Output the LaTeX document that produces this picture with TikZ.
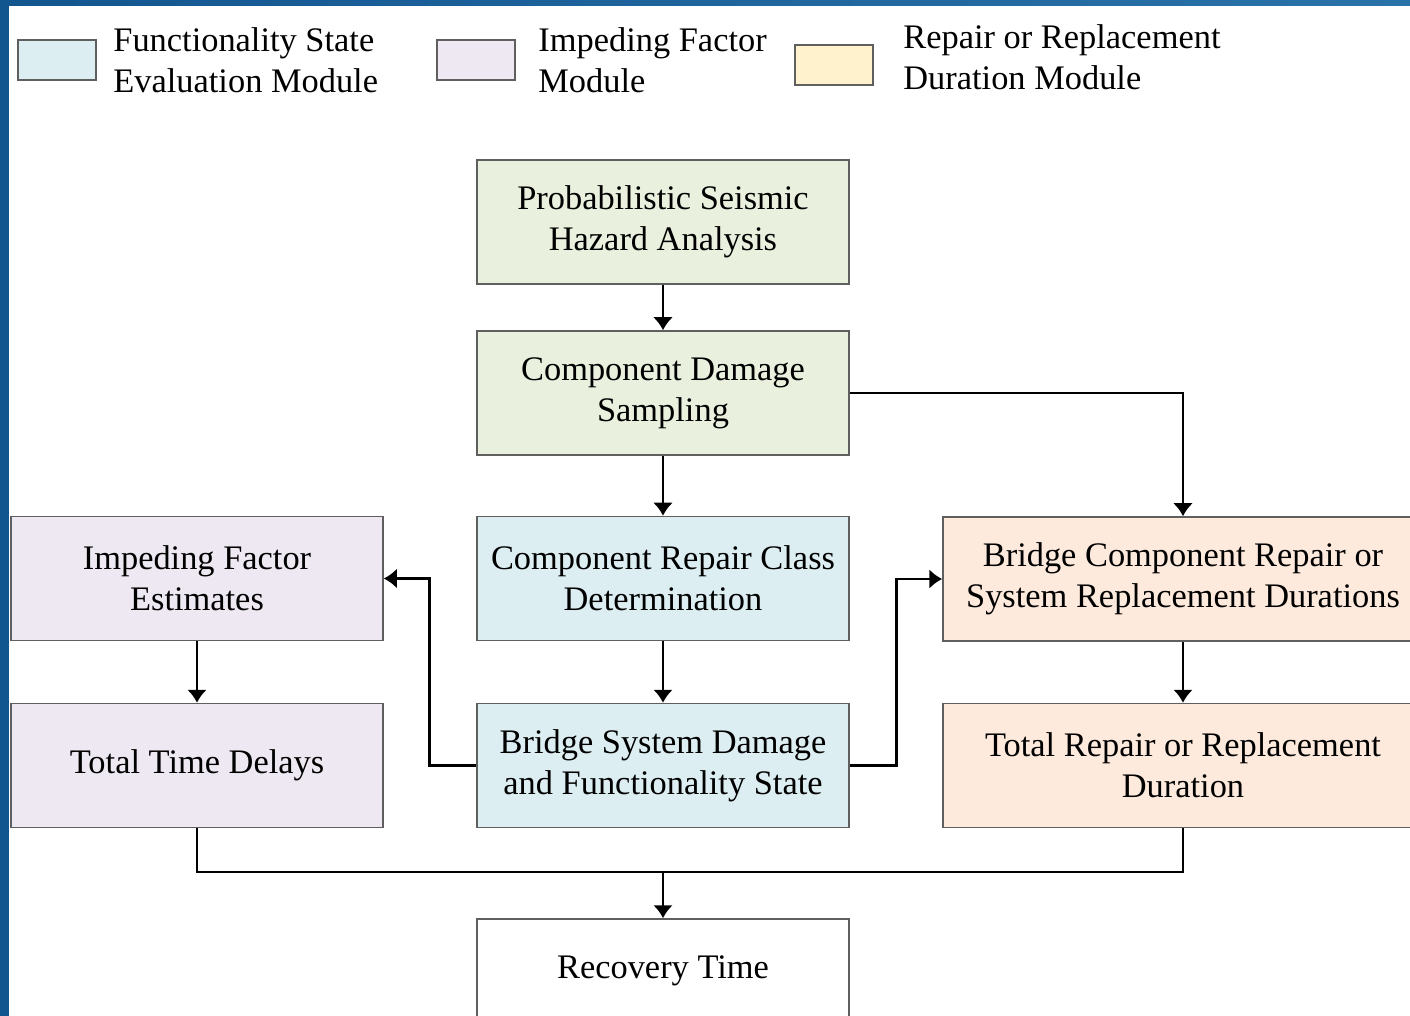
\documentclass[tikz,border=0pt]{standalone}
\usepackage{fontspec}
\setmainfont{Liberation Serif}
\usetikzlibrary{arrows.meta,positioning}

\definecolor{hazgreen}{HTML}{E9F1DE}
\definecolor{fsblue}{HTML}{DDEEF3}
\definecolor{iflav}{HTML}{EDE8F1}
\definecolor{rrpeach}{HTML}{FDEADC}
\definecolor{rrcream}{HTML}{FFF2CC}
\definecolor{boxline}{HTML}{5F5F5F}
\definecolor{frameA}{HTML}{125690}
\definecolor{frameB}{HTML}{2A72AA}

\begin{document}
\begin{tikzpicture}[
x=0.5pt,
y=-0.5pt,
box/.style={
  draw=boxline,
  line width=0.75pt,
  minimum width=186pt,
  minimum height=62pt,
  inner sep=0pt,
  align=center,
  font=\fontsize{17.2}{20.5}\selectfont
  },
widebox/.style={
  box,
  minimum width=240pt
  },
swatch/.style={
  draw=boxline,
  line width=0.75pt,
  minimum width=39pt,
  minimum height=20pt,
  inner sep=0pt
  },
keytext/.style={
  anchor=west,
  align=left,
  inner sep=0pt,
  font=\fontsize{17.2}{20.5}\selectfont
  },
flow/.style={
  draw,
  line width=1.3pt,
  ->
  },
>={Latex[length=6.5pt,width=10pt]}
]
\useasboundingbox (0,0) rectangle (1410,1016);
\clip (0,0) rectangle (1410,1016);

% frame
\shade[left color=frameA, right color=frameB] (0,0) rectangle (1410,6);
\fill[frameA] (0,0) rectangle (9,1016);

% legend
\node[swatch, fill=fsblue] (keyfs) at (57,60) {};
\node[keytext] (keyfstext) at (113,60) {Functionality State\\Evaluation Module};
\node[swatch, fill=iflav] (keyif) at (476,60) {};
\node[keytext] (keyiftext) at (538,60) {Impeding Factor\\Module};
\node[swatch, fill=rrcream] (keyrr) at (834,65) {};
\node[keytext] (keyrrtext) at (903,57) {Repair or Replacement\\Duration Module};

% modules
\node[box, fill=hazgreen] (psha) at (663,222) {Probabilistic Seismic\\Hazard Analysis};
\node[box, fill=hazgreen] (damage) at (663,393) {Component Damage\\Sampling};
\node[box, fill=fsblue] (repclass) at (663,578.5) {Component Repair Class\\Determination};
\node[box, fill=fsblue] (sysstate) at (663,765.5) {Bridge System Damage\\and Functionality State};
\node[box, fill=iflav] (impfac) at (197,578.5) {Impeding Factor\\Estimates};
\node[box, fill=iflav] (delays) at (197,765.5) {Total Time Delays};
\node[widebox, fill=rrpeach] (durations) at (1183,579) {Bridge Component Repair or\\System Replacement Durations};
\node[widebox, fill=rrpeach] (totaldur) at (1183,765.5) {Total Repair or Replacement\\Duration};
\node[box, fill=white, minimum height=52pt] (recovery) at (663,971) {Recovery Time};

% connectors
\draw[flow] (psha) -- (damage);
\draw[flow] (damage) -- (repclass);
\draw[flow] (damage.east) -| (durations.north);
\draw[flow] (repclass) -- (sysstate);
\draw[flow] (sysstate.west) -- ++(-47,0) |- (impfac.east);
\draw[flow] (sysstate.east) -- ++(47,0) |- (durations.west);
\draw[flow] (impfac) -- (delays);
\draw[flow] (durations) -- (totaldur);
\coordinate (join) at (663,872);
\draw[line width=1.3pt] (delays.south) |- (join) -| (totaldur.south);
\draw[flow] (join) -- (recovery);
\end{tikzpicture}
\end{document}
